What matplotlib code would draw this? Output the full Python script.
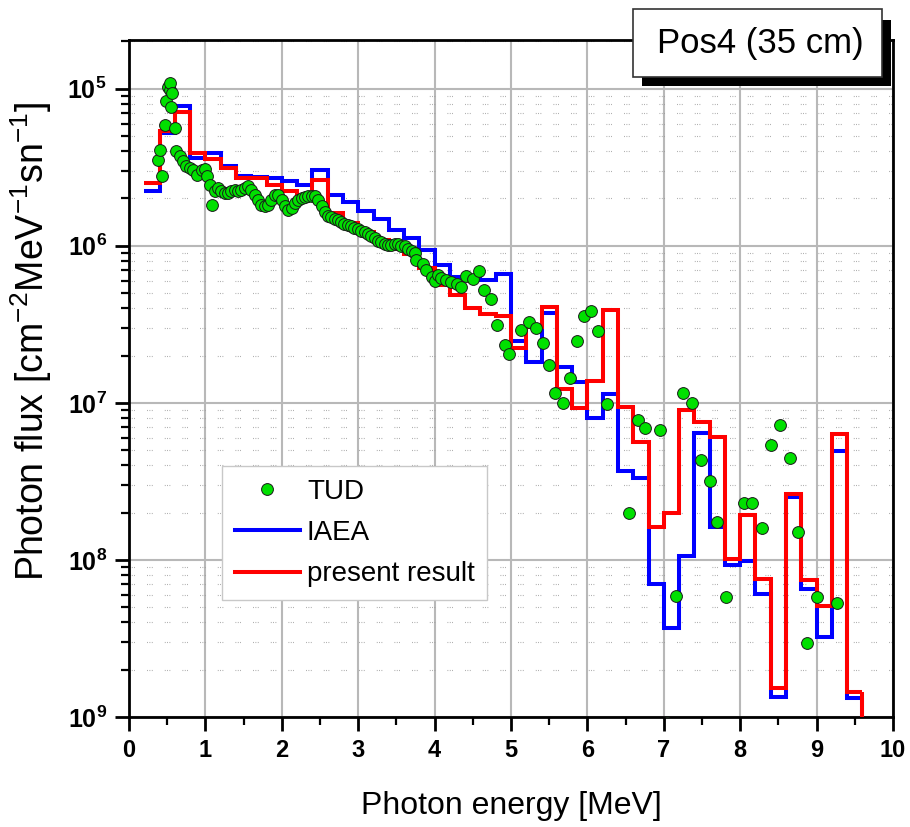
import numpy as np
import matplotlib.pyplot as plt
from matplotlib.patches import Rectangle
from matplotlib.ticker import MultipleLocator, LogLocator, NullFormatter

plt.rcParams['font.family'] = ['Liberation Sans', 'DejaVu Sans']
plt.rcParams['mathtext.fontset'] = 'custom'
plt.rcParams['mathtext.rm'] = 'Liberation Sans'
plt.rcParams['mathtext.it'] = 'Liberation Sans:italic'
plt.rcParams['mathtext.bf'] = 'Liberation Sans:bold'

# 0.2 MeV energy groups of the calculated spectra
bin_edges = np.linspace(0.2, 9.6, 48)

iaea_flux = [2.22e-6, 5.2e-6, 7.8e-6, 3.62e-6, 3.89e-6, 3.2e-6, 2.77e-6, 2.73e-6,
             2.70e-6, 2.57e-6, 2.45e-6, 3.05e-6, 2.11e-6, 1.91e-6, 1.66e-6, 1.47e-6,
             1.26e-6, 1.12e-6, 9.4e-7, 7.57e-7, 6.37e-7, 6.2e-7, 6.07e-7, 6.63e-7,
             2.46e-7, 1.82e-7, 3.73e-7, 1.70e-7, 1.35e-7, 7.98e-8, 1.14e-7, 3.69e-8,
             3.31e-8, 7.0e-9, 3.67e-9, 1.06e-8, 6.47e-8, 1.62e-8, 9.3e-9, 9.9e-9,
             6.1e-9, 1.35e-9, 2.53e-8, 6.5e-9, 3.22e-9, 4.97e-8, 1.33e-9]

present_flux = [2.5e-6, 5.4e-6, 7.1e-6, 3.9e-6, 3.57e-6, 3.12e-6, 2.70e-6, 2.70e-6,
                2.45e-6, 2.22e-6, 1.98e-6, 2.63e-6, 1.62e-6, 1.40e-6, 1.23e-6, 1.09e-6,
                9.5e-7, 8.8e-7, 7.2e-7, 5.65e-7, 4.88e-7, 4.0e-7, 3.7e-7, 3.55e-7,
                2.23e-7, 3.06e-7, 4.07e-7, 1.23e-7, 9.25e-8, 1.37e-7, 3.91e-7, 9.47e-8,
                5.67e-8, 1.63e-8, 2.0e-8, 9.0e-8, 7.6e-8, 6.1e-8, 1.01e-8, 1.94e-8,
                7.6e-9, 1.54e-9, 2.63e-8, 7.5e-9, 5.1e-9, 6.35e-8, 1.44e-9]

# TUD measurement
tud_energy = [0.38, 0.41, 0.43, 0.47, 0.49, 0.51, 0.54, 0.54, 0.55, 0.56, 0.60,
              0.62, 0.67, 0.71, 0.75, 0.80, 0.84, 0.89, 0.95, 0.99, 1.02, 1.06, 1.09,
              1.12, 1.17, 1.21, 1.26, 1.30, 1.34, 1.39, 1.43, 1.47, 1.52, 1.56, 1.60,
              1.65, 1.69, 1.73, 1.78, 1.82, 1.86, 1.91, 1.95, 2.00, 2.04, 2.08, 2.13,
              2.17, 2.21, 2.26, 2.30, 2.34, 2.39, 2.43, 2.48, 2.52, 2.56, 2.61, 2.65,
              2.69, 2.74, 2.78, 2.82, 2.87, 2.91, 2.95, 3.00, 3.04, 3.09, 3.13, 3.17,
              3.22, 3.26, 3.30, 3.35, 3.39, 3.43, 3.48, 3.52, 3.56, 3.61, 3.65, 3.70,
              3.74, 3.76, 3.85, 3.89, 3.96, 4.00, 4.04, 4.09, 4.15, 4.22, 4.29, 4.35,
              4.41, 4.50, 4.58, 4.65, 4.74, 4.82, 4.92, 4.98, 5.13, 5.24, 5.33, 5.42,
              5.50, 5.57, 5.68, 5.77, 5.86, 5.95, 6.05, 6.14, 6.26, 6.33, 6.55, 6.66,
              6.75, 6.95, 7.04, 7.16, 7.25, 7.37, 7.49, 7.60, 7.70, 7.82, 8.05, 8.16,
              8.28, 8.40, 8.52, 8.65, 8.76, 8.88, 9.01, 9.27]
tud_flux = [3.53e-6, 4.05e-6, 2.77e-6, 5.9e-6, 8.3e-6, 1.02e-5, 9.86e-6, 1.08e-5, 7.6e-6,
            9.4e-6, 5.6e-6,
            3.99e-6, 3.71e-6, 3.44e-6, 3.23e-6, 3.12e-6, 3.02e-6, 2.83e-6, 3.05e-6,
            3.09e-6, 2.77e-6, 2.45e-6, 1.82e-6, 2.22e-6, 2.33e-6, 2.22e-6, 2.17e-6,
            2.17e-6, 2.22e-6, 2.27e-6, 2.22e-6, 2.27e-6, 2.33e-6, 2.39e-6, 2.27e-6,
            2.11e-6, 1.96e-6, 1.82e-6, 1.78e-6, 1.82e-6, 1.96e-6, 2.11e-6, 2.11e-6,
            1.96e-6, 1.78e-6, 1.69e-6, 1.74e-6, 1.87e-6, 1.96e-6, 2.01e-6, 2.04e-6,
            2.06e-6, 2.08e-6, 2.06e-6, 1.96e-6, 1.78e-6, 1.63e-6, 1.55e-6, 1.52e-6,
            1.48e-6, 1.45e-6, 1.41e-6, 1.38e-6, 1.35e-6, 1.33e-6, 1.30e-6, 1.28e-6,
            1.25e-6, 1.22e-6, 1.18e-6, 1.15e-6, 1.12e-6, 1.08e-6, 1.05e-6, 1.03e-6,
            1.01e-6, 1.01e-6, 1.03e-6, 1.03e-6, 1.0e-6, 9.9e-7, 9.6e-7, 9.25e-7,
            9.0e-7, 8.15e-7, 7.68e-7, 7.03e-7, 6.32e-7, 5.93e-7, 6.53e-7, 6.22e-7,
            6.07e-7, 5.84e-7, 5.73e-7, 5.45e-7, 6.38e-7, 6.13e-7, 6.86e-7, 5.2e-7,
            4.57e-7, 3.14e-7, 2.34e-7, 2.05e-7, 2.92e-7, 3.25e-7, 2.99e-7, 2.4e-7,
            1.75e-7, 1.16e-7, 1.0e-7, 1.44e-7, 2.49e-7, 3.55e-7, 3.87e-7, 2.85e-7,
            9.86e-8, 9.0e-10, 1.98e-8, 7.8e-8, 6.9e-8, 6.7e-8, 9.2e-10, 5.9e-9,
            1.16e-7, 9.95e-8, 4.34e-8, 3.2e-8, 1.75e-8, 5.8e-9, 2.32e-8, 2.31e-8,
            1.59e-8, 5.4e-8, 7.24e-8, 4.44e-8, 1.5e-8, 2.95e-9, 5.8e-9, 5.3e-9]

x_ticks = list(range(11))
x_tick_labels = [str(v) for v in x_ticks]
y_ticks = [1e-5, 1e-6, 1e-7, 1e-8, 1e-9]
y_tick_labels = [r'$\mathbf{10^{5}}$', r'$\mathbf{10^{6}}$', r'$\mathbf{10^{7}}$',
                 r'$\mathbf{10^{8}}$', r'$\mathbf{10^{9}}$']
y_min, y_max = 1e-9, 2.04e-5

fig = plt.figure(figsize=(9.1, 8.27), dpi=100)
ax = fig.add_axes([0.1418, 0.1330, 0.8395, 0.8186])
ax.set_yscale('log')
ax.set_xlim(0, 10)
ax.set_ylim(y_min, y_max)

# grid: solid majors, dotted minor decades
ax.grid(which='major', color='#b8b8b8', lw=1.5)
ax.yaxis.set_minor_locator(LogLocator(base=10, subs=np.arange(2, 10)))
ax.yaxis.set_minor_formatter(NullFormatter())
ax.yaxis.grid(which='minor', color='#9a9a9a', lw=0.8,
              linestyle=(0, (0.7, 1.4, 0.7, 1.4, 0.7, 11)))
ax.xaxis.set_minor_locator(MultipleLocator(0.5))
ax.set_axisbelow(True)

# spectra
ax.stairs(iaea_flux, bin_edges, baseline=None, color='#0000ff', lw=2.9,
          joinstyle='miter', label='IAEA', zorder=3)
ax.vlines(bin_edges[-1], y_min, iaea_flux[-1], color='#0000ff', lw=2.9, zorder=3)
ax.stairs(present_flux, bin_edges, baseline=None, color='#ff0000', lw=2.9,
          joinstyle='miter', label='present result', zorder=4)
ax.vlines(bin_edges[-1], y_min, present_flux[-1], color='#ff0000', lw=2.9, zorder=4)
ax.plot(tud_energy, tud_flux, ls='none', marker='o', ms=8.5, mfc='#00e000',
        mec='#1a1a1a', mew=0.7, label='TUD', zorder=5)

ax.set_xticks(x_ticks)
ax.set_xticklabels(x_tick_labels, fontweight='bold')
ax.set_yticks(y_ticks)
ax.set_yticklabels(y_tick_labels)
ax.tick_params(which='major', length=10, width=2, labelsize=17, pad=6)
ax.tick_params(axis='y', which='major', labelsize=18)
ax.tick_params(which='minor', length=6, width=1.6)
for sp in ax.spines.values():
    sp.set_linewidth(2)

ax.set_xlabel('Photon energy [MeV]', fontsize=23)
ax.xaxis.set_label_coords(0.5, -0.11)
ax.set_ylabel(r'Photon flux [cm$^{-2}$MeV$^{-1}$sn$^{-1}$]', fontsize=27)
ax.yaxis.set_label_coords(-0.098, 0.554)

handles, labels = ax.get_legend_handles_labels()
order = [labels.index(n) for n in ['TUD', 'IAEA', 'present result']]
leg = ax.legend([handles[i] for i in order], [labels[i] for i in order],
                loc='lower left', bbox_to_anchor=(0.122, 0.173), borderaxespad=0,
                fontsize=20, fancybox=False, edgecolor='#c8c8c8', framealpha=1,
                handlelength=2.35, handletextpad=0.25, labelspacing=0.55,
                borderpad=0.45, numpoints=1)
leg.get_frame().set_linewidth(1.0)

# position label box with drop shadow
W, H = 910, 827
fig.add_artist(Rectangle((642 / W, 1 - 86 / H), 249 / W, 66 / H,
                         transform=fig.transFigure, facecolor='black', zorder=10))
fig.add_artist(Rectangle((633 / W, 1 - 77 / H), 249 / W, 68 / H,
                         transform=fig.transFigure, facecolor='white',
                         edgecolor='#333333', lw=1.2, zorder=11))
fig.text(760 / W, 1 - 43 / H, 'Pos4 (35 cm)', ha='center', va='center',
         fontsize=25, zorder=12)

fig.savefig('out.png', dpi=100)
